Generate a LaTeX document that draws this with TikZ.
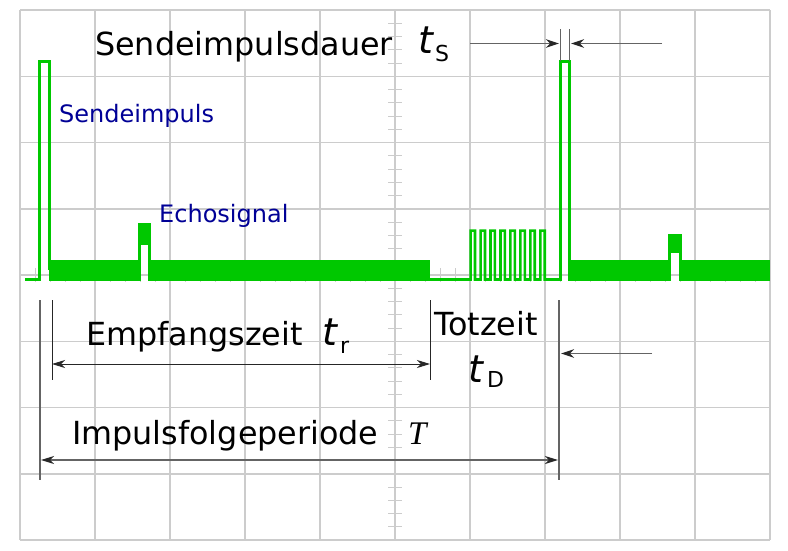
\documentclass[tikz,border=0pt]{standalone}
\usepackage{fontspec}
\setmainfont{DejaVu Sans}
\newfontfamily\serifvar{Liberation Serif}
\usetikzlibrary{arrows.meta}
\definecolor{sig}{RGB}{0,200,0}
\definecolor{gridc}{RGB}{204,204,204}
\definecolor{lbl}{RGB}{0,0,150}
\definecolor{ann}{RGB}{100,100,100}
\definecolor{tipc}{RGB}{40,40,40}
\begin{document}
\begin{tikzpicture}[x=1pt,y=-1pt,
  gridln/.style={gridc,line width=1.5pt},
  axtick/.style={gridc,line width=1pt},
  sigln/.style={sig,line width=3pt,line join=miter},
  burstln/.style={sig,line width=2.6pt,line join=miter},
  annln/.style={ann,line width=1.6pt},
  thinln/.style={black!85,line width=1pt},
  arr/.style={-{Stealth[length=13pt,width=8.5pt,inset=4pt,color=tipc]}},
  darr/.style={{Stealth[length=13pt,width=8pt,inset=4pt,color=tipc]}-{Stealth[length=13pt,width=8pt,inset=4pt,color=tipc]}},
  bigtxt/.style={font=\fontsize{31.8}{36}\selectfont,inner sep=0pt,anchor=base west},
  bluetxt/.style={font=\fontsize{24}{28}\selectfont,text=lbl,inner sep=0pt,anchor=base west},
  vartxt/.style={font=\fontsize{38}{40}\selectfont\itshape,inner sep=0pt,anchor=base west},
  subtxt/.style={font=\fontsize{22}{24}\selectfont,inner sep=0pt,anchor=base west},
]
\fill[white] (0,0) rectangle (788,550);
\useasboundingbox (0,0) rectangle (788,550);
% grid
\foreach \i in {0,...,10} \draw[gridln] (20+75*\i,10) -- (20+75*\i,540);
\foreach \j in {0,...,8} \draw[gridln] (20,10+66.25*\j) -- (770,10+66.25*\j);
% axis ticks
\foreach \k in {1,...,39} \draw[axtick] (388,10+13.25*\k) -- (402,10+13.25*\k);
\foreach \k in {1,...,49} \draw[axtick] (20+15*\k,268) -- (20+15*\k,282);
% signal
\draw[sigln] (25,279.5) -- (39.8,279.5) -- (39.8,61.7) -- (49.3,61.7) -- (49.3,270);
\fill[sig] (49,260) rectangle (140,281);
\fill[sig] (138.3,223.3) rectangle (151,245);
\draw[sigln] (139.7,245) -- (139.7,281);
\draw[sigln] (149.7,245) -- (149.7,281);
\fill[sig] (149,260) rectangle (430,281);
\draw[burstln] (430,279.5) -- (470.6,279.5)
  \foreach \k in {0,...,7} { -- (470.6+9.96*\k,230.6) -- (475+9.96*\k,230.6) -- (475+9.96*\k,279.5) -- (480.56+9.96*\k,279.5) };
\draw[sigln] (544,279.5) -- (560.5,279.5) -- (560.5,61.5) -- (569.5,61.5) -- (569.5,270);
\fill[sig] (568,260) rectangle (671,281);
\fill[sig] (668.3,234) rectangle (681.7,253.3);
\draw[sigln] (669.7,253) -- (669.7,281);
\draw[sigln] (680.3,253) -- (680.3,281);
\fill[sig] (679,260) rectangle (770,281);
% annotation coordinates
\coordinate (tsA) at (470,43.5);
\coordinate (tsB) at (559,43.5);
\coordinate (tsC) at (662,43.5);
\coordinate (tsD) at (571,43.5);
\coordinate (trA) at (52,364);
\coordinate (trB) at (430,364);
\coordinate (TA) at (41,460);
\coordinate (TB) at (558,460);
\coordinate (tdA) at (652,353.5);
\coordinate (tdB) at (561,353.5);
% t_S
\draw[ann,line width=1.3pt] (560.5,29) -- (560.5,61);
\draw[ann,line width=1.3pt] (569.5,29) -- (569.5,61);
\draw[ann,line width=1.4pt,arr] (tsA) -- (tsB);
\draw[ann,line width=1.4pt,arr] (tsC) -- (tsD);
% lower
\draw[ann,line width=2pt] (40,300) -- (40,480);
\draw[thinln] (52,300) -- (52,380);
\draw[thinln] (430,300) -- (430,380);
\draw[thinln,darr] (trA) -- (trB);
\draw[annln,darr] (TA) -- (TB);
\draw[ann,line width=2pt] (559,300) -- (559,480);
\draw[annln,arr] (tdA) -- (tdB);
% texts
\node[bigtxt] (sd) at (95,55) {Sendeimpulsdauer};
\node[vartxt] (tsv) at (418,53) {t};
\node[subtxt] (tss) at (435,61.5) {S};
\node[bluetxt] (si) at (59,122) {Sendeimpuls};
\node[bluetxt] (es) at (159,222) {Echosignal};
\node[bigtxt] (ez) at (86,345) {Empfangszeit};
\node[vartxt] (trv) at (322,345) {t};
\node[subtxt] (trs) at (340,353) {r};
\node[bigtxt] (tz) at (434,335) {Totzeit};
\node[vartxt] (tdv) at (468,382) {t};
\node[subtxt] (tds) at (487,387) {D};
\node[bigtxt] (ip) at (72,444) {Impulsfolgeperiode};
\node[font=\fontsize{33}{36}\selectfont\serifvar\itshape,inner sep=0pt,anchor=base west] (Tv) at (408,444) {T};
\end{tikzpicture}
\end{document}
